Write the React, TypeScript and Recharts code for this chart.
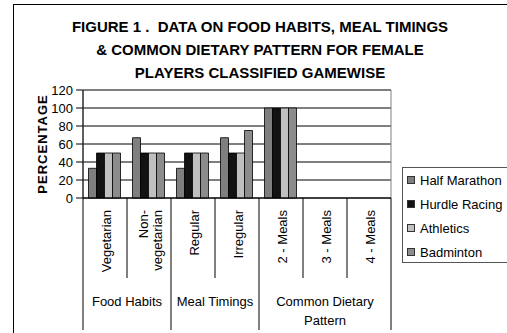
import { Bar, BarChart, CartesianGrid, ReferenceArea, XAxis, YAxis } from 'recharts'

const categories = ['Vegetarian', 'Non-\nvegetarian', 'Regular', 'Irregular', '2 - Meals', '3 - Meals', '4 - Meals']
const groupLabels = [['Food Habits'], ['Meal Timings'], ['Common Dietary', 'Pattern']]
const groupSizes = [2, 2, 3]

const halfMarathon = [33, 67, 33, 67, 100, 0, 0]
const hurdleRacing = [50, 50, 50, 50, 100, 0, 0]
const athletics = [50, 50, 50, 50, 100, 0, 0]
const badminton = [50, 50, 50, 75, 100, 0, 0]

const yTicks = [0, 20, 40, 60, 80, 100, 120]

const series = [
  { key: 'hm', name: 'Half Marathon', color: '#7f7f7f' },
  { key: 'hr', name: 'Hurdle Racing', color: '#121212' },
  { key: 'ath', name: 'Athletics', color: '#c0c0c0' },
  { key: 'bad', name: 'Badminton', color: '#8c8c8c' },
]

const font = '"Liberation Sans", Arial, sans-serif'

const data = categories.map((c, i) => ({
  name: c,
  hm: halfMarathon[i],
  hr: hurdleRacing[i],
  ath: athletics[i],
  bad: badminton[i],
}))

// index of the first category of each group
const groupStarts = groupSizes.map((_, g) => groupSizes.slice(0, g).reduce((a, b) => a + b, 0))

function CategoryTick(props: any) {
  const { x, y, payload, index } = props
  const half = payload?.offset ?? 22
  const lines = String(payload.value).split('\n')
  const gIdx = groupStarts.indexOf(index)
  const isLast = index === categories.length - 1
  const lh = 14
  return (
    <g>
      <line x1={x - half} x2={x - half} y1={y} y2={y + (gIdx >= 0 ? 132 : 80)} stroke="#000" />
      {isLast && <line x1={x + half} x2={x + half} y1={y} y2={y + 132} stroke="#000" />}
      <text
        transform={`translate(${x + 1},${y + 12}) rotate(-90)`}
        textAnchor="end"
        fontSize={13}
        fontFamily={font}
        fill="#000"
      >
        {lines.map((l, k) => (
          <tspan key={k} x={0} y={(k - (lines.length - 1) / 2) * lh + 4.5}>
            {l}
          </tspan>
        ))}
      </text>
      {gIdx >= 0 && (
        <text textAnchor="middle" fontSize={13} fontFamily={font} fill="#000">
          {groupLabels[gIdx].map((l, k) => (
            <tspan key={k} x={x - half + groupSizes[gIdx] * half} y={y + 108 + k * 19}>
              {l}
            </tspan>
          ))}
        </text>
      )}
    </g>
  )
}

export default function App() {
  return (
    <div
      style={{
        position: 'absolute',
        left: 0,
        top: 0,
        width: 507,
        height: 333,
        overflow: 'hidden',
        background: '#fff',
        fontFamily: font,
      }}
    >
      <div
        style={{
          position: 'absolute',
          left: 13,
          top: 4,
          width: 600,
          height: 400,
          border: '1px solid #000',
        }}
      />
      <div
        style={{
          position: 'absolute',
          left: 40,
          top: 15,
          width: 440,
          textAlign: 'center',
          fontWeight: 'bold',
          fontSize: 15,
          lineHeight: '23px',
          color: '#000',
        }}
      >
        FIGURE 1 .&nbsp; DATA ON FOOD HABITS, MEAL TIMINGS
        <br />& COMMON DIETARY PATTERN FOR FEMALE
        <br />
        PLAYERS CLASSIFIED GAMEWISE
      </div>
      <div style={{ position: 'absolute', left: 0, top: 0 }}>
        <BarChart
          width={507}
          height={333}
          data={data}
          margin={{ top: 90, right: 116, left: 1, bottom: 35 }}
          barCategoryGap="12.5%"
          barGap={0}
        >
          <CartesianGrid vertical={false} stroke="#000" />
          <ReferenceArea y1={0} y2={120} fill="none" stroke="#808080" ifOverflow="visible" />
          <XAxis
            dataKey="name"
            interval={0}
            height={100}
            tickSize={0}
            tickMargin={0}
            tickLine={false}
            axisLine={{ stroke: '#000' }}
            tick={<CategoryTick />}
          />
          <YAxis
            width={82}
            domain={[0, 120]}
            ticks={yTicks}
            interval={0}
            tickSize={7}
            tickMargin={3}
            axisLine={{ stroke: '#000' }}
            tickLine={{ stroke: '#000' }}
            tick={{ fill: '#000', fontSize: 13, fontFamily: font }}
            label={{
              value: 'PERCENTAGE',
              angle: -90,
              position: 'center',
              style: { fontWeight: 'bold', fontSize: 13, fontFamily: font, fill: '#000', letterSpacing: 1 },
            }}
          />
          {series.map((s) => (
            <Bar
              key={s.key}
              dataKey={s.key}
              name={s.name}
              fill={s.color}
              stroke="#000"
              strokeWidth={0.8}
              isAnimationActive={false}
            />
          ))}
        </BarChart>
      </div>
      <div
        style={{
          position: 'absolute',
          left: 402,
          top: 167,
          width: 120,
          height: 96,
          border: '1px solid #555',
          boxSizing: 'border-box',
          paddingTop: 0,
        }}
      >
        {series.map((s) => (
          <div
            key={s.key}
            style={{ display: 'flex', alignItems: 'center', height: 24, fontSize: 13, color: '#000' }}
          >
            <span
              style={{
                display: 'inline-block',
                width: 6,
                height: 6,
                marginLeft: 4,
                marginRight: 5,
                background: s.color,
                border: '1px solid #333',
              }}
            />
            {s.name}
          </div>
        ))}
      </div>
    </div>
  )
}
